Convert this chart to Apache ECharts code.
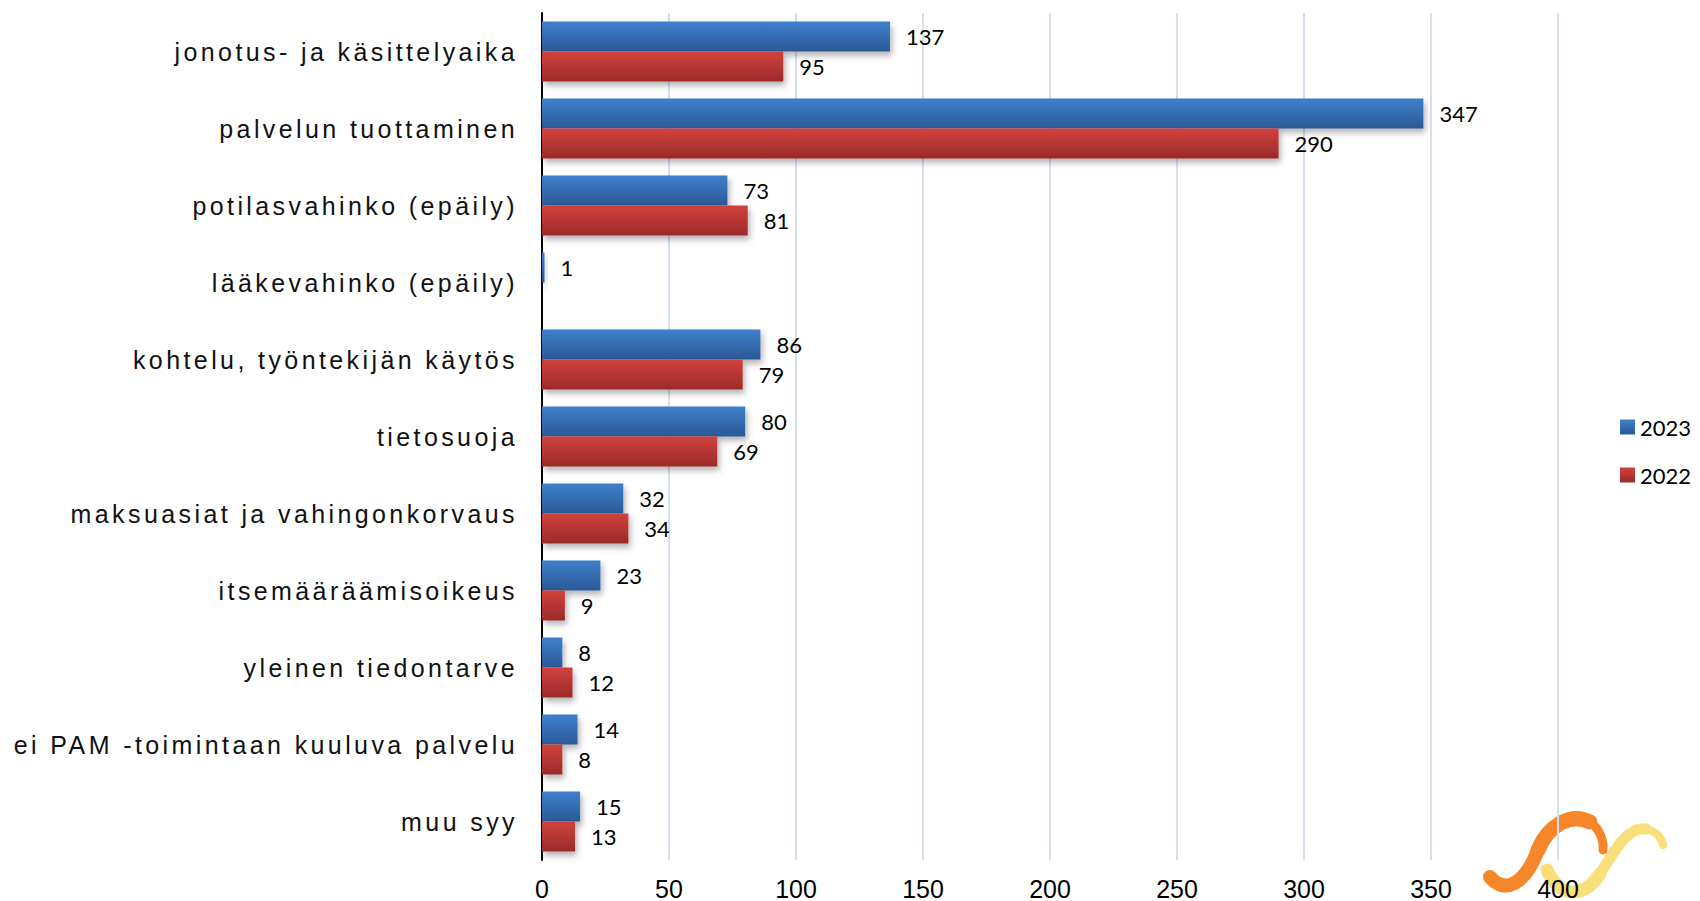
<!DOCTYPE html>
<html>
<head>
<meta charset="utf-8">
<script src="https://cdn.jsdelivr.net/npm/echarts@6/dist/echarts.min.js"></script>
<style>
  html, body { margin: 0; padding: 0; background: #fff; }
  #main { width: 1700px; height: 901px; }
</style>
</head>
<body>
<div id="main"></div>
<script>
// kategoriat ylhäältä alas
const categories = [
  'jonotus- ja käsittelyaika',
  'palvelun tuottaminen',
  'potilasvahinko (epäily)',
  'lääkevahinko (epäily)',
  'kohtelu, työntekijän käytös',
  'tietosuoja',
  'maksuasiat ja vahingonkorvaus',
  'itsemääräämisoikeus',
  'yleinen tiedontarve',
  'ei PAM -toimintaan kuuluva palvelu',
  'muu syy'
]
const values2023 = [137, 347, 73, 1, 86, 80, 32, 23, 8, 14, 15]
const values2022 = [95, 290, 81, 0, 79, 69, 34, 9, 12, 8, 13]
const seriesNames = ['2023', '2022']

const chartDom = document.getElementById('main')
const chart = echarts.init(chartDom, null, { renderer: 'svg' })

function grad(top, bottom) {
  return {
    type: 'linear', x: 0, y: 0, x2: 0, y2: 1,
    colorStops: [
      { offset: 0, color: top },
      { offset: 1, color: bottom }
    ],
    global: false
  }
}

// logon kaaret (koriste oikeassa alakulmassa)
function curve(p, color, w) {
  return {
    type: 'bezierCurve',
    z: -1,
    shape: { x1: p[0], y1: p[1], cpx1: p[2], cpy1: p[3], cpx2: p[4], cpy2: p[5], x2: p[6], y2: p[7] },
    style: { stroke: color, lineWidth: w, lineCap: 'round', fill: null }
  }
}

const barLabel = {
  show: true,
  position: 'right',
  distance: 16,
  color: '#000',
  fontFamily: 'Lato',
  fontSize: 22,
  formatter: p => (p.value ? p.value : '')
}

const option = {
  animation: false,
  backgroundColor: '#fff',
  grid: { left: 542, right: 142, top: 13, bottom: 39 },
  legend: {
    orient: 'vertical',
    left: 1615,
    top: 411,
    itemWidth: 15,
    itemHeight: 15,
    itemGap: 26,
    icon: 'rect',
    data: seriesNames,
    textStyle: { fontFamily: 'Lato', fontSize: 22, color: '#000' }
  },
  xAxis: {
    type: 'value',
    min: 0,
    max: 400,
    interval: 50,
    axisLine: { show: false },
    axisTick: { show: false },
    axisLabel: {
      margin: 16,
      color: '#000',
      fontFamily: 'Arial',
      fontSize: 25
    },
    splitLine: {
      show: true,
      lineStyle: { color: '#d5e0ee', width: 2 }
    }
  },
  yAxis: {
    type: 'category',
    inverse: true,
    data: categories,
    axisLine: { show: true, lineStyle: { color: '#000', width: 2 } },
    axisTick: { show: false },
    axisLabel: {
      margin: 24,
      color: '#111',
      fontFamily: 'Liberation Sans',
      fontSize: 25
    }
  },
  series: [
    {
      name: seriesNames[0],
      type: 'bar',
      barWidth: 30,
      barGap: '0%',
      data: values2023,
      itemStyle: {
        color: grad('#3f80cc', '#2b5996'),
        shadowColor: 'rgba(0,0,0,0.3)',
        shadowBlur: 6,
        shadowOffsetX: 2,
        shadowOffsetY: 4
      },
      label: barLabel
    },
    {
      name: seriesNames[1],
      type: 'bar',
      barWidth: 30,
      barGap: '0%',
      data: values2022,
      itemStyle: {
        color: grad('#d2423d', '#9b2a2a'),
        shadowColor: 'rgba(0,0,0,0.3)',
        shadowBlur: 6,
        shadowOffsetX: 2,
        shadowOffsetY: 4
      },
      label: barLabel
    }
  ],
  graphic: [
    curve([1547, 870, 1560, 897, 1582, 900, 1600, 874], '#f9df7a', 13),
    curve([1600, 874, 1615, 850, 1628, 826, 1646, 829], '#f9df7a', 11),
    curve([1646, 829, 1656, 831, 1662, 838, 1663, 845], '#f9df7a', 8),
    curve([1490, 877, 1505, 895, 1525, 884, 1538, 850], '#f5862a', 14),
    curve([1538, 850, 1548, 826, 1570, 812, 1590, 822], '#f5862a', 15),
    curve([1590, 822, 1599, 828, 1604, 840, 1603, 850], '#f5862a', 9)
  ]
}

chart.setOption(option, true)

// kategorianimien kirjainväli
function spaceLabels() {
  const texts = chartDom.querySelectorAll('svg text')
  texts.forEach(t => {
    if (categories.indexOf(t.textContent) >= 0) {
      t.setAttribute('letter-spacing', '3.4')
    }
  })
}
chart.on('finished', spaceLabels)
spaceLabels()
setTimeout(spaceLabels, 0)
</script>
</body>
</html>
